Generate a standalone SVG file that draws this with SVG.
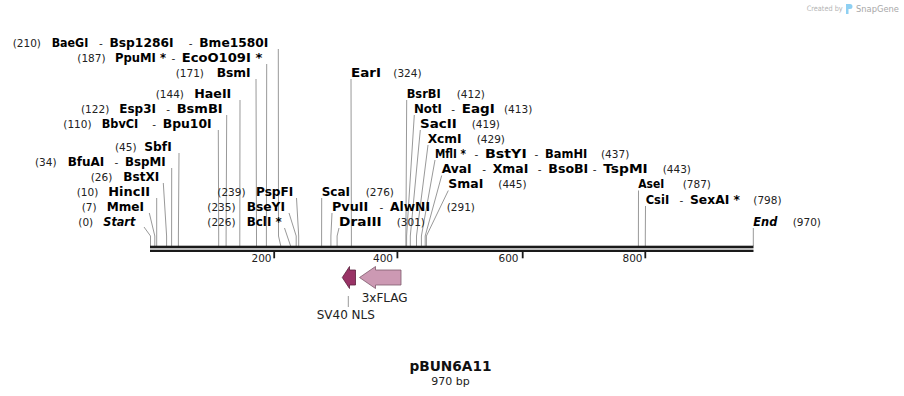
<svg xmlns="http://www.w3.org/2000/svg" width="904" height="396" viewBox="0 0 904 396">
<style>
text{font-family:"DejaVu Sans","Liberation Sans",sans-serif;}
.n{font-size:10.5px;fill:#222;}
.b{font-size:11.8px;font-weight:bold;fill:#000;}
.bi{font-size:11.8px;font-weight:bold;font-style:italic;fill:#000;}
.d{font-size:10.5px;fill:#222;}
.c{fill:none;stroke:#999;stroke-width:1;}
.tk{stroke:#1a1a1a;stroke-width:1.8;}
.tl{font-size:10.5px;fill:#222;text-anchor:end;}
.fl{font-size:12px;fill:#222;}
</style>
<rect width="904" height="396" fill="#fff"/>
<g id="watermark">
<text x="806.7" y="10.5" style="font-size:7.5px;fill:#b4b4b4" textLength="36" lengthAdjust="spacingAndGlyphs">Created by</text>
<path d="M846,4 h4 a2.5,2.5 0 0 1 0,5 h-1.5 v5 h-2.5 z" fill="#8fd0f2"/>
<text x="856" y="11.5" style="font-size:9.5px;fill:#a8a8a8" textLength="43" lengthAdjust="spacingAndGlyphs">SnapGene</text>
</g>
<g id="connectors">
<polyline class="c" points="278.3,49 278.5,236 280.8,246"/>
<polyline class="c" points="266.7,64 266.4,236 266.4,246"/>
<polyline class="c" points="256,79 256.5,236 256.5,246"/>
<polyline class="c" points="240,100 239.8,236 239.8,246"/>
<polyline class="c" points="226.7,115 226.1,236 226.1,246"/>
<polyline class="c" points="218.3,130 218.7,236 218.7,246"/>
<polyline class="c" points="179,153 178.4,236 178.4,246"/>
<polyline class="c" points="171.7,168 171.6,236 171.6,246"/>
<polyline class="c" points="163.3,183 166.6,236 166.6,246"/>
<polyline class="c" points="156.7,198 156.7,236 156.7,246"/>
<polyline class="c" points="149.3,213 154.8,236 154.8,246"/>
<polyline class="c" points="144,227 150.5,236 150.5,246"/>
<polyline class="c" points="296.5,198 298.7,236 298.7,246"/>
<polyline class="c" points="289,213 296.2,236 296.2,246"/>
<polyline class="c" points="284.5,228 290.6,246"/>
<polyline class="c" points="351,79 351.4,236 351.4,246"/>
<polyline class="c" points="406.7,100 405.9,236 405.9,246"/>
<polyline class="c" points="414.3,115 406.6,236 406.6,246"/>
<polyline class="c" points="420.3,130 410.3,236 410.3,246"/>
<polyline class="c" points="428,145 416.5,236 416.5,246"/>
<polyline class="c" points="435,160 421.4,236 421.4,246"/>
<polyline class="c" points="441.7,175.5 425.2,236 425.2,246"/>
<polyline class="c" points="448.3,190.5 426.4,236 426.4,246"/>
<polyline class="c" points="321.7,198 321.6,236 321.6,246"/>
<polyline class="c" points="332,213 330.9,236 330.9,246"/>
<polyline class="c" points="339,228 337.1,236 337.1,246"/>
<polyline class="c" points="638.5,190.5 638.4,236 638.4,246"/>
<polyline class="c" points="645.5,206 645.3,236 645.3,246"/>
<polyline class="c" points="753.3,228 753.3,246"/>
<line class="c" x1="348.3" y1="296" x2="348.3" y2="307"/>
</g>
<g id="backbone">
<rect x="150" y="245.7" width="603.5" height="2.6" fill="#1a1a1a"/>
<rect x="150" y="249.7" width="603.5" height="2.3" fill="#1a1a1a"/>
<line class="tk" x1="274.2" y1="252" x2="274.2" y2="258.3"/>
<line class="tk" x1="397.4" y1="252" x2="397.4" y2="258.3"/>
<line class="tk" x1="522.7" y1="252" x2="522.7" y2="258.3"/>
<line class="tk" x1="645.3" y1="252" x2="645.3" y2="258.3"/>
<text class="tl" x="271.5" y="262">200</text>
<text class="tl" x="393" y="262">400</text>
<text class="tl" x="518.5" y="262">600</text>
<text class="tl" x="642.5" y="262">800</text>
</g>
<g id="feature-sv40nls">
<polygon points="342.3,277.5 349.5,266.5 349.5,270 355.5,270 355.5,285 349.5,285 349.5,288.5" fill="#993366" stroke="#5a1f3c" stroke-width="0.8"/>
<text class="fl" x="316.7" y="318.5">SV40 NLS</text>
</g>
<g id="feature-3xflag">
<polygon points="359.5,277.5 375.5,266.5 375.5,270 401,270 401,285 375.5,285 375.5,288.5" fill="#cc99b3" stroke="#7d5a6c" stroke-width="0.8"/>
<text class="fl" x="361.7" y="302">3xFLAG</text>
</g>
<g id="title">
<text x="450.5" y="370.5" text-anchor="middle" style="font-size:13.7px;font-weight:bold;fill:#111">pBUN6A11</text>
<text x="450.5" y="384.5" text-anchor="middle" style="font-size:11px;fill:#222">970 bp</text>
</g>
<g id="cut-baegi"><text y="46.5"><tspan class="n" x="12.7">(210)</tspan><tspan class="b" x="51.7" textLength="36.6" lengthAdjust="spacingAndGlyphs">BaeGI</tspan><tspan class="d" x="99">-</tspan><tspan class="b" x="109.5" textLength="64" lengthAdjust="spacingAndGlyphs">Bsp1286I</tspan><tspan class="d" x="188.8">-</tspan><tspan class="b" x="199.3" textLength="69" lengthAdjust="spacingAndGlyphs">Bme1580I</tspan></text></g>
<g id="cut-ppumi"><text y="61.5"><tspan class="n" x="77.3">(187)</tspan><tspan class="b" x="115" textLength="51" lengthAdjust="spacingAndGlyphs">PpuMI *</tspan><tspan class="d" x="171.5">-</tspan><tspan class="b" x="181.7" textLength="80.6" lengthAdjust="spacingAndGlyphs">EcoO109I *</tspan></text></g>
<g id="cut-bsmi"><text y="76.5"><tspan class="n" x="175.7">(171)</tspan><tspan class="b" x="216.7" textLength="34" lengthAdjust="spacingAndGlyphs">BsmI</tspan></text></g>
<g id="cut-haeii"><text y="97.5"><tspan class="n" x="155.7">(144)</tspan><tspan class="b" x="194.3" textLength="37" lengthAdjust="spacingAndGlyphs">HaeII</tspan></text></g>
<g id="cut-esp3i"><text y="112.5"><tspan class="n" x="81">(122)</tspan><tspan class="b" x="119.3" textLength="36.7" lengthAdjust="spacingAndGlyphs">Esp3I</tspan><tspan class="d" x="166.2">-</tspan><tspan class="b" x="176.7" textLength="46" lengthAdjust="spacingAndGlyphs">BsmBI</tspan></text></g>
<g id="cut-bbvci"><text y="127.5"><tspan class="n" x="63.3">(110)</tspan><tspan class="b" x="101.7" textLength="36.6" lengthAdjust="spacingAndGlyphs">BbvCI</tspan><tspan class="d" x="152.2">-</tspan><tspan class="b" x="162.7" textLength="49" lengthAdjust="spacingAndGlyphs">Bpu10I</tspan></text></g>
<g id="cut-sbfi"><text y="150.5"><tspan class="n" x="115">(45)</tspan><tspan class="b" x="144.3" textLength="27.4" lengthAdjust="spacingAndGlyphs">SbfI</tspan></text></g>
<g id="cut-bfuai"><text y="165.5"><tspan class="n" x="35">(34)</tspan><tspan class="b" x="67.7" textLength="36.6" lengthAdjust="spacingAndGlyphs">BfuAI</tspan><tspan class="d" x="114.5">-</tspan><tspan class="b" x="125" textLength="40.7" lengthAdjust="spacingAndGlyphs">BspMI</tspan></text></g>
<g id="cut-bstxi"><text y="180.5"><tspan class="n" x="90.7">(26)</tspan><tspan class="b" x="123.3" textLength="36" lengthAdjust="spacingAndGlyphs">BstXI</tspan></text></g>
<g id="cut-hincii"><text y="195.5"><tspan class="n" x="76.7">(10)</tspan><tspan class="b" x="108.3" textLength="41.7" lengthAdjust="spacingAndGlyphs">HincII</tspan></text></g>
<g id="cut-mmei"><text y="210.5"><tspan class="n" x="81.7">(7)</tspan><tspan class="b" x="106.7" textLength="37.3" lengthAdjust="spacingAndGlyphs">MmeI</tspan></text></g>
<g id="cut-start"><text y="225.5"><tspan class="n" x="78.3">(0)</tspan><tspan class="bi" x="103.3" textLength="32" lengthAdjust="spacingAndGlyphs">Start</tspan></text></g>
<g id="cut-pspfi"><text y="195.5"><tspan class="n" x="217.3">(239)</tspan><tspan class="b" x="256" textLength="37.3" lengthAdjust="spacingAndGlyphs">PspFI</tspan></text></g>
<g id="cut-bseyi"><text y="210.5"><tspan class="n" x="207.3">(235)</tspan><tspan class="b" x="246.7" textLength="38.3" lengthAdjust="spacingAndGlyphs">BseYI</tspan></text></g>
<g id="cut-bcli"><text y="225.5"><tspan class="n" x="207.3">(226)</tspan><tspan class="b" x="246.7" textLength="35" lengthAdjust="spacingAndGlyphs">BclI *</tspan></text></g>
<g id="cut-eari"><text y="76.5"><tspan class="b" x="351" textLength="30" lengthAdjust="spacingAndGlyphs">EarI</tspan><tspan class="n" x="393.3">(324)</tspan></text></g>
<g id="cut-bsrbi"><text y="97.5"><tspan class="b" x="406.7" textLength="34" lengthAdjust="spacingAndGlyphs">BsrBI</tspan><tspan class="n" x="456.7">(412)</tspan></text></g>
<g id="cut-noti"><text y="112.5"><tspan class="b" x="414" textLength="28" lengthAdjust="spacingAndGlyphs">NotI</tspan><tspan class="d" x="451.2">-</tspan><tspan class="b" x="461.7" textLength="33" lengthAdjust="spacingAndGlyphs">EagI</tspan><tspan class="n" x="504">(413)</tspan></text></g>
<g id="cut-sacii"><text y="127.5"><tspan class="b" x="420" textLength="36.7" lengthAdjust="spacingAndGlyphs">SacII</tspan><tspan class="n" x="471.7">(419)</tspan></text></g>
<g id="cut-xcmi"><text y="142.5"><tspan class="b" x="427.7" textLength="34" lengthAdjust="spacingAndGlyphs">XcmI</tspan><tspan class="n" x="476.7">(429)</tspan></text></g>
<g id="cut-mfli"><text y="157.5"><tspan class="b" x="435" textLength="31" lengthAdjust="spacingAndGlyphs">MflI *</tspan><tspan class="d" x="474.5">-</tspan><tspan class="b" x="485" textLength="41.7" lengthAdjust="spacingAndGlyphs">BstYI</tspan><tspan class="d" x="534.5">-</tspan><tspan class="b" x="545" textLength="42.3" lengthAdjust="spacingAndGlyphs">BamHI</tspan><tspan class="n" x="601">(437)</tspan></text></g>
<g id="cut-avai"><text y="173"><tspan class="b" x="441.7" textLength="30" lengthAdjust="spacingAndGlyphs">AvaI</tspan><tspan class="d" x="482.2">-</tspan><tspan class="b" x="492.7" textLength="35.6" lengthAdjust="spacingAndGlyphs">XmaI</tspan><tspan class="d" x="537.8">-</tspan><tspan class="b" x="548.3" textLength="40" lengthAdjust="spacingAndGlyphs">BsoBI</tspan><tspan class="d" x="592.8">-</tspan><tspan class="b" x="603.3" textLength="44.4" lengthAdjust="spacingAndGlyphs">TspMI</tspan><tspan class="n" x="662.7">(443)</tspan></text></g>
<g id="cut-smai"><text y="188"><tspan class="b" x="448.3" textLength="35" lengthAdjust="spacingAndGlyphs">SmaI</tspan><tspan class="n" x="498.3">(445)</tspan></text></g>
<g id="cut-scai"><text y="195.5"><tspan class="b" x="321.7" textLength="28.3" lengthAdjust="spacingAndGlyphs">ScaI</tspan><tspan class="n" x="365.7">(276)</tspan></text></g>
<g id="cut-pvuii"><text y="210.5"><tspan class="b" x="332" textLength="36.3" lengthAdjust="spacingAndGlyphs">PvuII</tspan><tspan class="d" x="379.5">-</tspan><tspan class="b" x="390" textLength="40" lengthAdjust="spacingAndGlyphs">AlwNI</tspan><tspan class="n" x="446.7">(291)</tspan></text></g>
<g id="cut-draiii"><text y="225.5"><tspan class="b" x="339" textLength="42.7" lengthAdjust="spacingAndGlyphs">DraIII</tspan><tspan class="n" x="396.7">(301)</tspan></text></g>
<g id="cut-asei"><text y="188"><tspan class="b" x="638.3" textLength="26" lengthAdjust="spacingAndGlyphs">AseI</tspan><tspan class="n" x="682.7">(787)</tspan></text></g>
<g id="cut-csii"><text y="203.5"><tspan class="b" x="645.7" textLength="23.5" lengthAdjust="spacingAndGlyphs">CsiI</tspan><tspan class="d" x="679.5">-</tspan><tspan class="b" x="690" textLength="50" lengthAdjust="spacingAndGlyphs">SexAI *</tspan><tspan class="n" x="753.3">(798)</tspan></text></g>
<g id="cut-end"><text y="225.5"><tspan class="bi" x="753.3" textLength="24" lengthAdjust="spacingAndGlyphs">End</tspan><tspan class="n" x="792.7">(970)</tspan></text></g>
</svg>
